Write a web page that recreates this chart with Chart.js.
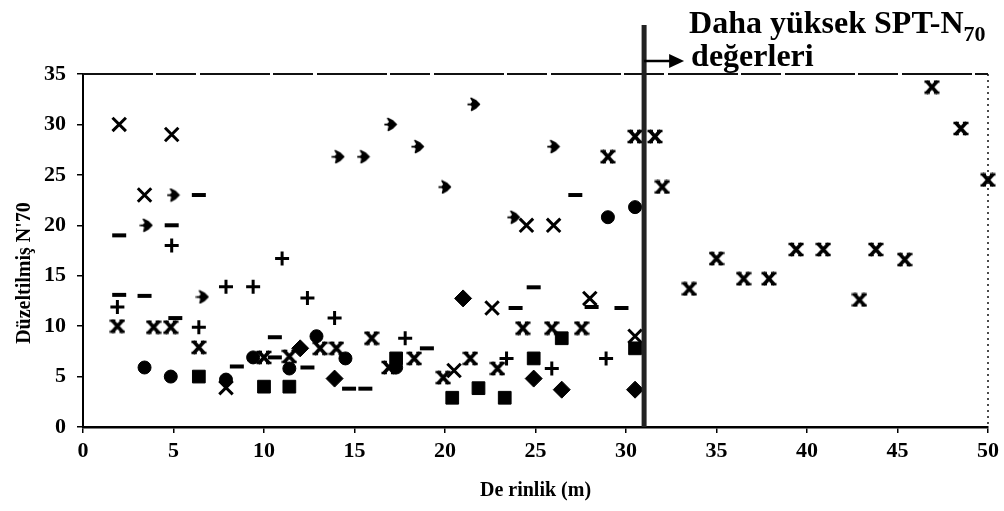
<!DOCTYPE html>
<html>
<head>
<meta charset="utf-8">
<script src="https://cdn.jsdelivr.net/npm/chart.js@4.4.1/dist/chart.umd.min.js"></script>
<style>
html, body { margin: 0; padding: 0; background: #fff; }
#wrap { width: 1004px; height: 511px; }
</style>
</head>
<body>
<div id="wrap"><canvas id="chart" width="1004" height="511"></canvas></div>
<script>
// tick values
const xTicks = [0, 5, 10, 15, 20, 25, 30, 35, 40, 45, 50];
const yTicks = [0, 5, 10, 15, 20, 25, 30, 35];
const boundaryDepth = 31;

// [depth m, N'70] per marker type
const boldX = [[1.9,10],[3.9,9.9],[4.85,9.9],[6.4,7.9],[10,6.9],[11.4,7.0],[13.1,7.8],[14,7.8],
  [15.95,8.8],[16.9,5.9],[18.3,6.8],[19.9,4.9],[21.4,6.8],[22.9,5.8],[24.3,9.8],[25.9,9.8],
  [27.55,9.8],[29,26.8],[30.5,28.8],[31.6,28.8],[32,23.8],[33.5,13.7],[35,16.7],[36.5,14.7],
  [37.9,14.7],[39.4,17.6],[40.9,17.6],[42.9,12.6],[43.8,17.6],[45.4,16.6],[46.9,33.7],
  [48.5,29.6],[50,24.5]];
const thinX = [[2,30],[4.9,29],[3.4,23],[24.5,20],[26,20],[22.6,11.8],[28,12.75],[30.5,9],
  [7.9,3.9],[20.5,5.6]];
const circles = [[3.4,5.9],[4.85,5],[7.9,4.7],[9.4,6.9],[11.4,5.8],[12.9,9],[14.5,6.8],
  [17.3,5.9],[29,20.8],[30.5,21.8]];
const squares = [[6.4,5],[10,4],[11.4,4],[17.3,6.8],[20.4,2.9],[21.85,3.85],[23.3,2.9],
  [24.9,6.8],[26.45,8.8],[30.5,7.8]];
const diamonds = [[12,7.8],[13.9,4.8],[21,12.75],[24.9,4.8],[26.45,3.7],[30.5,3.7]];
const pluses = [[4.9,18],[11,16.7],[7.9,13.9],[9.4,13.9],[12.4,12.8],[13.9,10.8],[1.9,11.9],
  [6.4,9.9],[17.8,8.8],[23.4,6.8],[25.9,5.8],[28.9,6.8]];
const dashes = [[2,19],[4.9,20],[6.4,23],[27.2,23],[2,13.1],[3.4,13],[5.1,10.8],[8.5,6],
  [10.6,6.9],[10.6,8.9],[12.4,5.9],[14.7,3.8],[15.6,3.8],[19,7.8],[23.9,11.8],[24.9,13.85],
  [28.1,11.9],[29.75,11.8]];
const arrows = [[14.1,26.8],[15.5,26.8],[17,30],[18.5,27.8],[21.6,32],[20,23.8],[26,27.8],
  [23.8,20.8],[5,23],[3.5,20],[6.6,12.9]];

function toPts(arr) {
  return arr.map(p => ({x: p[0], y: p[1]}));
}

// bold X with little serifs, like the scanned marker
function makeBoldX() {
  const c = document.createElement('canvas');
  c.width = 16; c.height = 15;
  const g = c.getContext('2d');
  g.strokeStyle = '#000';
  g.lineWidth = 3.6; g.lineCap = 'round';
  g.beginPath();
  g.moveTo(3.5, 2.5); g.lineTo(12.5, 12.5);
  g.moveTo(12.5, 2.5); g.lineTo(3.5, 12.5);
  g.stroke();
  g.lineWidth = 2.6; g.lineCap = 'butt';
  g.beginPath();
  g.moveTo(0.5, 2); g.lineTo(6, 2); g.moveTo(10, 2); g.lineTo(15.5, 2);
  g.moveTo(0.5, 13); g.lineTo(6, 13); g.moveTo(10, 13); g.lineTo(15.5, 13);
  g.stroke();
  return c;
}

// blobby arrowhead marker
function makeArrow() {
  const c = document.createElement('canvas');
  c.width = 14; c.height = 15;
  const g = c.getContext('2d');
  g.fillStyle = '#000';
  g.strokeStyle = '#000';
  g.lineWidth = 1.5;
  g.lineJoin = 'round';
  g.beginPath();
  g.moveTo(4, 1.5); g.lineTo(9, 4); g.lineTo(12.5, 7.5); g.lineTo(9, 11);
  g.lineTo(4.5, 13.5); g.lineTo(5.5, 9.5); g.lineTo(4, 7.5); g.lineTo(6, 5);
  g.closePath(); g.fill(); g.stroke();
  g.fillRect(0.5, 6.7, 4.5, 1.8);
  return c;
}

const serif = '"Liberation Serif", "DejaVu Serif", serif';
Chart.defaults.font.family = serif;
Chart.defaults.font.weight = 'bold';
Chart.defaults.font.size = 22;
Chart.defaults.color = '#000';

function ds(data, style, radius, bw) {
  return {
    data: toPts(data),
    pointStyle: style,
    pointRadius: radius,
    pointBorderWidth: bw,
    pointBackgroundColor: '#000',
    pointBorderColor: '#000',
    showLine: false,
    clip: false
  };
}

const frameAndNote = {
  id: 'frameAndNote',
  afterDraw(chart) {
    const {ctx, chartArea: a, scales: {x}} = chart;
    ctx.save();
    ctx.strokeStyle = '#111';
    ctx.lineWidth = 2;
    ctx.setLineDash([70, 3, 40, 4]);
    ctx.beginPath(); ctx.moveTo(a.left, a.top); ctx.lineTo(a.right, a.top); ctx.stroke();
    ctx.setLineDash([2, 4]);
    ctx.lineWidth = 1.5;
    ctx.beginPath(); ctx.moveTo(a.right, a.top); ctx.lineTo(a.right, a.bottom); ctx.stroke();
    ctx.setLineDash([]);

    const lx = x.getPixelForValue(boundaryDepth);
    ctx.lineWidth = 5;
    ctx.strokeStyle = '#222';
    ctx.beginPath(); ctx.moveTo(lx, 25); ctx.lineTo(lx, a.bottom); ctx.stroke();

    ctx.lineWidth = 2.5;
    ctx.strokeStyle = '#000';
    ctx.beginPath(); ctx.moveTo(lx, 61); ctx.lineTo(lx + 30, 61); ctx.stroke();
    ctx.fillStyle = '#000';
    ctx.beginPath();
    ctx.moveTo(lx + 25, 54); ctx.lineTo(lx + 40, 61); ctx.lineTo(lx + 25, 68);
    ctx.closePath(); ctx.fill();

    ctx.textBaseline = 'alphabetic';
    ctx.font = 'bold 32px ' + serif;
    const line1 = 'Daha yüksek SPT-N';
    ctx.fillText(line1, lx + 45, 33);
    const w = ctx.measureText(line1).width;
    ctx.font = 'bold 22px ' + serif;
    ctx.fillText('70', lx + 45 + w, 41);
    ctx.font = 'bold 32px ' + serif;
    ctx.fillText('değerleri', lx + 47, 66);
    ctx.restore();
  }
};

const chart = document.querySelector('#chart').getContext('2d');
new Chart(chart, {
  type: 'scatter',
  data: {
    datasets: [
      ds(boldX, makeBoldX(), 7, 1),
      ds(thinX, 'crossRot', 9.5, 3),
      ds(circles, 'circle', 6.5, 1),
      ds(squares, 'rect', 9, 1),
      ds(diamonds, 'rectRot', 8.5, 1),
      ds(pluses, 'cross', 7, 3),
      ds(dashes, 'line', 7, 4),
      ds(arrows, makeArrow(), 6, 1)
    ]
  },
  options: {
    responsive: false,
    animation: false,
    layout: { padding: { top: 74, right: 16, left: 0, bottom: 0 } },
    plugins: { legend: { display: false }, tooltip: { enabled: false } },
    scales: {
      x: {
        type: 'linear',
        min: 0, max: 50,
        afterFit: s => { s.height = 84; },
        afterBuildTicks: s => { s.ticks = xTicks.map(v => ({value: v})); },
        grid: { drawOnChartArea: false, drawTicks: true, tickLength: 6, color: '#000', lineWidth: 1.5 },
        border: { color: '#000', width: 2.5 },
        ticks: { color: '#000', padding: 5, font: { size: 22 }, maxRotation: 0 },
        title: {
          display: true, text: 'De rinlik (m)', color: '#000',
          font: { size: 20 },
          padding: { top: 0, bottom: 8 }
        }
      },
      y: {
        type: 'linear',
        min: 0, max: 35,
        afterFit: s => { s.width = 83; },
        afterBuildTicks: s => { s.ticks = yTicks.map(v => ({value: v})); },
        grid: { drawOnChartArea: false, drawTicks: true, tickLength: 6, color: '#000', lineWidth: 1.5 },
        border: { color: '#000', width: 2 },
        ticks: { color: '#000', padding: 11, font: { size: 22 } },
        title: {
          display: true, text: "Düzeltilmiş N'70\u2003\u2003 ", color: '#000',
          font: { size: 20 },
          padding: { top: 13, bottom: 0 }
        }
      }
    }
  },
  plugins: [frameAndNote]
});
</script>
</body>
</html>
